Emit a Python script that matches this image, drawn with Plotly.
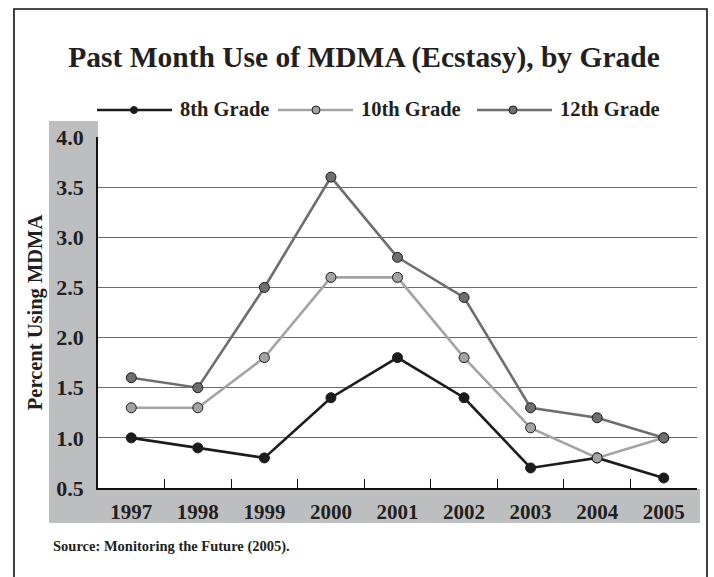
import plotly.graph_objects as go

years = ["1997", "1998", "1999", "2000", "2001", "2002", "2003", "2004", "2005"]
grade8 = [1.0, 0.9, 0.8, 1.4, 1.8, 1.4, 0.7, 0.8, 0.6]
grade10 = [1.3, 1.3, 1.8, 2.6, 2.6, 1.8, 1.1, 0.8, 1.0]
grade12 = [1.6, 1.5, 2.5, 3.6, 2.8, 2.4, 1.3, 1.2, 1.0]
y_ticks = [0.5, 1.0, 1.5, 2.0, 2.5, 3.0, 3.5, 4.0]
y_tick_text = ["0.5", "1.0", "1.5", "2.0", "2.5", "3.0", "3.5", "4.0"]
series_names = ["8th Grade", "10th Grade", "12th Grade"]
line_colors = ["#1c1c1c", "#a3a3a3", "#6e6e6e"]

FONT = "Liberation Serif"
TXT = "#231f20"

W, H = 714, 577
L, R, T, B = 98, 17, 137, 89
pw = W - L - R
ph = H - T - B


def px(x):
    return (x - L) / pw


def py(y):
    return (H - B - y) / ph


fig = go.Figure()
for name, vals, col in zip(series_names, [grade8, grade10, grade12], line_colors):
    fig.add_trace(go.Scatter(
        x=years, y=vals, name=name, mode="lines+markers",
        line=dict(color=col, width=2.6),
        marker=dict(size=10, color=col, line=dict(color="#1c1c1c", width=1)),
        cliponaxis=False, showlegend=False,
    ))

shapes = [
    # gray L-shaped band behind tick labels
    dict(type="rect", xref="paper", yref="paper", x0=px(49), x1=px(98), y0=py(523), y1=py(121),
         fillcolor="#bdbec0", line=dict(width=0), layer="below"),
    dict(type="rect", xref="paper", yref="paper", x0=px(49), x1=px(700), y0=py(523), y1=py(489),
         fillcolor="#bdbec0", line=dict(width=0), layer="below"),
    # outer frame
    dict(type="rect", xref="paper", yref="paper", x0=px(14), x1=px(707), y0=py(590), y1=py(9),
         fillcolor="rgba(0,0,0,0)", line=dict(color="#111111", width=1.6), layer="below"),
]

annotations = [
    dict(text="<b>Source: Monitoring the Future (2005).</b>", xref="paper", yref="paper",
         x=px(51), y=py(546), xanchor="left", yanchor="middle", showarrow=False,
         font=dict(family=FONT, size=14.5, color=TXT)),
]

# legend (drawn as layout decoration)
leg_y = 110
leg_items = [  # (line x0, line x1, dot x, dot size)
    (97, 172, 134, 7),
    (278, 353, 316, 8),
    (477, 552, 513, 8),
]
for (x0, x1, dx, ds), name, col in zip(leg_items, series_names, line_colors):
    shapes.append(dict(type="line", xref="paper", yref="paper",
                       x0=px(x0), x1=px(x1), y0=py(leg_y), y1=py(leg_y),
                       line=dict(color=col, width=2.4)))
    r = ds / 2
    shapes.append(dict(type="circle", xref="paper", yref="paper",
                       x0=px(dx - r), x1=px(dx + r), y0=py(leg_y + r), y1=py(leg_y - r),
                       fillcolor=col, line=dict(color="#1c1c1c", width=1)))
    annotations.append(dict(text="<b>%s</b>" % name, xref="paper", yref="paper",
                            x=px(x1 + 6), y=py(leg_y - 1), xanchor="left", yanchor="middle",
                            showarrow=False, font=dict(family=FONT, size=20.5, color=TXT)))

fig.update_layout(
    width=W, height=H,
    margin=dict(l=L, r=R, t=T, b=B, pad=0),
    paper_bgcolor="white", plot_bgcolor="white",
    font=dict(family=FONT, color=TXT),
    title=dict(text="<b>Past Month Use of MDMA (Ecstasy), by Grade</b>",
               x=364 / W, xref="container", xanchor="center",
               y=1 - 57 / H, yref="container", yanchor="middle",
               font=dict(family=FONT, size=29.5, color=TXT)),
    showlegend=False,
    shapes=shapes,
    annotations=annotations,
    xaxis=dict(type="category", categoryorder="array", categoryarray=years,
               tickvals=years, ticktext=["<b>%s</b>" % y for y in years],
               range=[-0.5, 8.5], showgrid=False, zeroline=False,
               showline=True, linecolor="#111111", linewidth=1.5,
               ticks="inside", tickson="boundaries", ticklen=9, tickcolor="#111111", tickwidth=1.2,
               tickfont=dict(family=FONT, size=21, color=TXT),
               ticklabelstandoff=4),
    yaxis=dict(range=[0.5, 4.0], tickvals=y_ticks, ticktext=["<b>%s</b>" % t for t in y_tick_text],
               showgrid=True, gridcolor="#6a6a6a", gridwidth=1,
               zeroline=False, showline=True, linecolor="#111111", linewidth=1.5,
               ticks="", tickfont=dict(family=FONT, size=22, color=TXT),
               ticklabelstandoff=8,
               title=dict(text="<b>Percent Using MDMA</b>", standoff=8,
                          font=dict(family=FONT, size=20.5, color=TXT))),
)

fig.write_html("out.html", config={"displayModeBar": False},
               post_script="document.body.style.margin='0px';")
